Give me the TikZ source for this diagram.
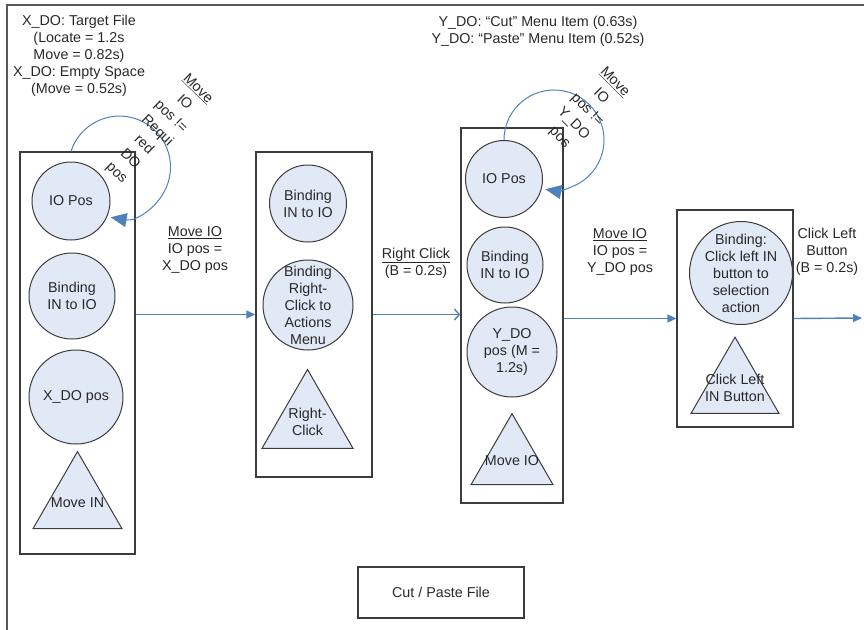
\documentclass[tikz,border=0pt]{standalone}
\usepackage{fontspec}
\setmainfont{Liberation Sans}
\usetikzlibrary{shapes,positioning,calc,arrows.meta}
\definecolor{lineblue}{RGB}{79,129,189}
\definecolor{statefill}{RGB}{225,233,246}
\definecolor{darkline}{RGB}{60,60,60}
\definecolor{txtgray}{RGB}{40,40,40}

\begin{document}
\begin{tikzpicture}
  [x=1pt,y=-1pt,font=\fontsize{14.3}{17}\selectfont,
   every node/.style={text=txtgray},
   boxN/.style={draw=darkline,line width=1.4pt,rectangle},
   stateN/.style={draw=darkline,line width=1pt,circle,fill=statefill,inner sep=0pt},
   actN/.style={draw=darkline,line width=1pt,regular polygon,regular polygon sides=3,
                fill=statefill,inner sep=0pt},
   flowA/.style={draw=lineblue,line width=1.4pt,-{Triangle[length=9pt,width=8pt]}},
   loopA/.style={draw=lineblue,line width=1pt,-{Triangle[length=16pt,width=14pt]}},
   loopL/.style={align=center,font=\fontsize{14.3}{19.5}\selectfont},
  ]

 \useasboundingbox (0,0) rectangle (864,629);
 \draw[gray!70!black,line width=2pt] (880,5) -| (7,640);

 \node[boxN,minimum width=115pt,minimum height=402pt] (b1) at (77.5,353) {};
 \node[boxN,minimum width=116pt,minimum height=325pt] (b2) at (314,314.5) {};
 \node[boxN,minimum width=102pt,minimum height=375pt] (b3) at (512,315.5) {};
 \node[boxN,minimum width=116pt,minimum height=217pt] (b4) at (735,318.5) {};

 \node[stateN,minimum size=78pt,label={[align=center]center:IO Pos}] (io1) at (71,201) {};
 \node[stateN,minimum size=86pt,label={[align=center]center:Binding\\IN to IO}] (bind1) at (72,296) {};
 \node[stateN,minimum size=94pt,label={[align=center]center:X\_DO pos}] (xpos) at (76,397) {};
 \node[actN,minimum size=102.8pt,label={[align=center]center:Move IN}] (movin) at (77.5,503) {};

 \node[stateN,minimum size=77pt,label={[align=center]center:Binding\\IN to IO}] (bind2) at (308,203.5) {};
 \node[stateN,minimum size=90pt,label={[align=center]center:Binding\\Right-\\Click to\\Actions\\Menu}] (bindrc) at (308,305) {};
 \node[actN,minimum size=105pt,label={[align=center]center:Right-\\Click}] (rclick) at (307.5,422) {};

 \node[stateN,minimum size=77pt,label={[align=center]center:IO Pos}] (io3) at (504,179) {};
 \node[stateN,minimum size=76pt,label={[align=center]center:Binding\\IN to IO}] (bind3) at (505,265) {};
 \node[stateN,minimum size=90pt,label={[align=center]center:Y\_DO\\pos (M =\\1.2s)}] (ypos) at (512,352) {};
 \node[actN,minimum size=94.7pt,label={[align=center]center:Move IO}] (movio) at (512,461) {};

 \node[stateN,minimum size=103pt,label={[align=center]center:Binding:\\Click left IN\\button to\\selection\\action}] (bindlc) at (741,273) {};
 \node[actN,minimum size=101.6pt,label={[align=center]center:Click Left\\IN Button}] (lclick) at (735,388) {};

 \draw[loopA] (io1 |- b1.north) arc[start angle=162,end angle=-100,radius=51pt];
 \draw[loopA] (io3.north) arc[start angle=180,end angle=-100,radius=50pt];
 \node[loopL,rotate=-44] (loop1) at (157,131) {\underline{Move}\\IO\\pos !=\\Requi\\red\\DO\\pos};
 \node[loopL,rotate=-45] (loop3) at (587,110) {\underline{Move}\\IO\\pos !=\\Y\_DO\\pos};

 \coordinate (exit) at (862,318);
 \draw[flowA] (b1.east |- b2.west) -- (b2.west);
 \draw[flowA,-{Straight Barb[length=5pt,width=11pt]}] (b2.east) -- (b3.west |- b2.east);
 \draw[flowA] (b3.east |- b4.west) -- (b4.west);
 \draw[flowA] (b4.east) -- (exit);

 \node[align=center] (lbl1) at (195,250) {\underline{Move IO}\\IO pos =\\X\_DO pos};
 \node[align=center] (lbl2) at (416,263) {\underline{Right Click}\\(B = 0.2s)};
 \node[align=center] (lbl3) at (620,252) {\underline{Move IO}\\IO pos =\\Y\_DO pos};
 \node[align=center] (lbl4) at (827,252) {Click Left\\Button\\(B = 0.2s)};

 \node[align=center] (xdo) at (79,56) {X\_DO: Target File\\(Locate = 1.2s\\Move = 0.82s)\\X\_DO: Empty Space\\(Move = 0.52s)};
 \node[align=center] (ydo) at (538,31) {Y\_DO: “Cut” Menu Item (0.63s)\\Y\_DO: “Paste” Menu Item (0.52s)};

 \node[boxN,line width=1.2pt,minimum width=166pt,minimum height=51pt] (title) at (441,592.5) {Cut / Paste File};

\end{tikzpicture}
\end{document}
